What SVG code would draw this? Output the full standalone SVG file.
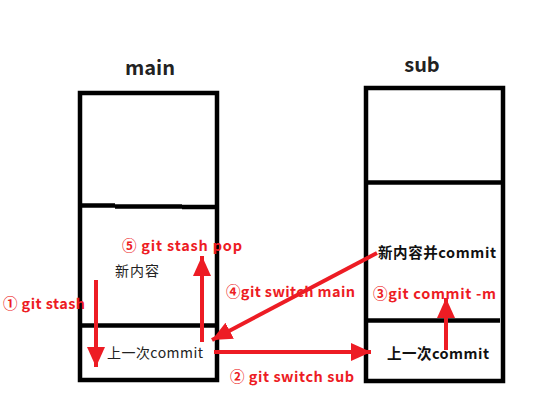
<svg xmlns="http://www.w3.org/2000/svg" width="555" height="405" viewBox="0 0 555 405">
<style>
.box{fill:none;stroke:#000;stroke-width:4.5}
.div{stroke:#000;stroke-width:4.5}
.title{font-family:"Noto Sans CJK SC","Noto Sans",sans-serif;font-weight:bold;font-size:20px;fill:#222}
.red{font-family:"Noto Sans CJK SC","Noto Sans",sans-serif;font-weight:bold;font-size:14.5px;fill:#ED1C24}
.blk{font-family:"Noto Sans CJK SC","Noto Sans",sans-serif;font-size:14px;fill:#222}
.blkb{font-family:"Noto Sans CJK SC","Noto Sans",sans-serif;font-weight:bold;font-size:14.5px;fill:#111}
.arr{stroke:#ED1C24;stroke-width:4;fill:none;marker-end:url(#ah)}
</style>
<defs>
<marker id="ah" markerUnits="userSpaceOnUse" markerWidth="22" markerHeight="18" refX="20" refY="9" orient="auto">
<path d="M0,0 L20,9 L0,18 Z" fill="#ED1C24"/>
</marker>
</defs>
<rect width="555" height="405" fill="#fff"/>
<g id="main">
<text class="title" x="150" y="75" text-anchor="middle">main</text>
<rect class="box" x="80" y="93" width="137" height="287"/>
<path class="div" d="M80,205.5 H115 M115,206.5 H182 M182,207 H217"/>
<path class="div" d="M80,325.5 H217"/>
<text class="blk" x="115" y="276" textLength="44" lengthAdjust="spacing">新内容</text>
<text class="blk" x="107" y="358" textLength="96" lengthAdjust="spacing">上一次commit</text>
</g>
<g id="sub">
<text class="title" x="422" y="72" text-anchor="middle">sub</text>
<rect class="box" x="366" y="88" width="137" height="293"/>
<path class="div" d="M366,182.5 H503"/>
<path class="div" d="M366,320.5 H500"/>
<text class="blkb" x="378" y="258" textLength="118" lengthAdjust="spacing">新内容并commit</text>
<text class="blkb" x="387" y="359" textLength="102" lengthAdjust="spacing">上一次commit</text>
</g>
<g id="connectors">
<path class="arr" d="M96,280 V367"/>
<path class="arr" d="M202,342 V256"/>
<path class="arr" d="M214,352 H371"/>
<path class="arr" d="M446,350 V298"/>
<path class="arr" d="M377,253 L212,340"/>
</g>
<g id="labels">
<text class="red" x="3" y="309" textLength="82" lengthAdjust="spacing">① git stash</text>
<text class="red" x="122" y="251" textLength="120" lengthAdjust="spacing">⑤ git stash pop</text>
<text class="red" x="226" y="297" textLength="129" lengthAdjust="spacing">④git switch main</text>
<text class="red" x="230" y="382" textLength="124" lengthAdjust="spacing">② git switch sub</text>
<text class="red" x="373" y="299" textLength="123" lengthAdjust="spacing">③git commit -m</text>
</g>
</svg>
